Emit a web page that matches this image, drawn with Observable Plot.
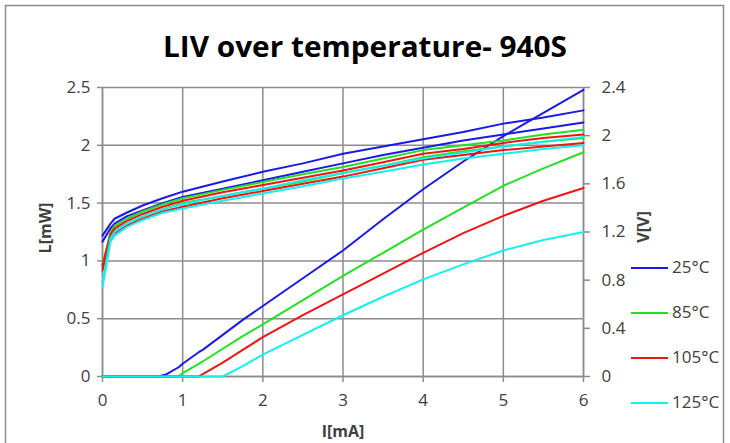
<!DOCTYPE html>
<html><head><meta charset="utf-8">
<script src="https://cdn.jsdelivr.net/npm/d3@7"></script>
<script src="https://cdn.jsdelivr.net/npm/@observablehq/plot@0.6"></script>
<style>
body{margin:0;background:#fff;}
#chart{position:relative;width:730px;height:443px;overflow:hidden;}
</style></head><body><div id="chart"></div>
<script>
// ---- data ----
const temps = ["25°C", "85°C", "105°C", "125°C"];
const colors = ["#1a1ae8", "#22e022", "#f01414", "#14f0f0"];
const xTicks = [0, 1, 2, 3, 4, 5, 6];
const lTicks = [0, 0.5, 1, 1.5, 2, 2.5];
const vTicks = [0, 0.4, 0.8, 1.2, 1.6, 2, 2.4];

// Light output L [mW] vs current I [mA]
const lCurrent = [0, 0.7, 0.8, 0.95, 1, 1.2, 1.25, 1.5, 1.75, 2, 2.5, 3, 3.5, 4, 4.5, 5, 5.5, 6];
const L25  = [0, 0, 0.02, 0.08, 0.11, 0.21, 0.23, 0.36, 0.49, 0.61, 0.85, 1.09, 1.36, 1.62, 1.86, 2.08, 2.28, 2.48];
const L85  = [0, 0, 0, 0, 0.03, 0.11, 0.13, 0.24, 0.35, 0.45, 0.66, 0.87, 1.07, 1.27, 1.46, 1.65, 1.80, 1.94];
const L105 = [0, 0, 0, 0, 0, 0, 0.02, 0.12, 0.23, 0.34, 0.53, 0.71, 0.89, 1.07, 1.24, 1.39, 1.52, 1.63];
const L125 = [0, 0, 0, 0, 0, 0, 0, 0, 0.09, 0.19, 0.36, 0.53, 0.69, 0.84, 0.97, 1.09, 1.18, 1.25];

// Voltage V [V] vs current I [mA], two traces per temperature
const vCurrent = [0, 0.1, 0.15, 0.3, 0.5, 0.75, 1, 1.5, 2, 2.5, 3, 3.5, 4, 4.5, 5, 5.5, 6];
const V25a  = [1.17, 1.27, 1.31, 1.36, 1.42, 1.48, 1.535, 1.62, 1.70, 1.77, 1.85, 1.91, 1.97, 2.03, 2.10, 2.15, 2.21];
const V25b  = [1.12, 1.23, 1.27, 1.33, 1.38, 1.44, 1.49, 1.56, 1.63, 1.70, 1.77, 1.84, 1.90, 1.96, 2.01, 2.06, 2.11];
const V85a  = [0.93, 1.20, 1.25, 1.31, 1.37, 1.43, 1.48, 1.55, 1.615, 1.68, 1.74, 1.81, 1.88, 1.92, 1.96, 2.01, 2.05];
const V85b  = [0.90, 1.16, 1.21, 1.27, 1.33, 1.39, 1.44, 1.50, 1.56, 1.62, 1.69, 1.75, 1.82, 1.87, 1.91, 1.95, 1.98];
const V105a = [0.92, 1.18, 1.23, 1.29, 1.35, 1.41, 1.46, 1.53, 1.59, 1.65, 1.71, 1.78, 1.85, 1.89, 1.94, 1.98, 2.01];
const V105b = [0.88, 1.14, 1.19, 1.25, 1.31, 1.37, 1.41, 1.48, 1.54, 1.60, 1.66, 1.73, 1.80, 1.84, 1.88, 1.91, 1.94];
const V125a = [0.78, 1.15, 1.20, 1.27, 1.33, 1.39, 1.43, 1.50, 1.56, 1.63, 1.69, 1.75, 1.81, 1.86, 1.91, 1.95, 1.99];
const V125b = [0.74, 1.12, 1.17, 1.24, 1.30, 1.36, 1.395, 1.46, 1.52, 1.58, 1.645, 1.70, 1.76, 1.81, 1.85, 1.89, 1.92];

const Lseries = [L25, L85, L105, L125];
const Vseries = [[V25a, V25b], [V85a, V85b], [V105a, V105b], [V125a, V125b]];

// right axis (0–2.4 V) shares the plot height with left axis (0–2.5 mW)
const K = 2.5 / 2.4;
const rows = [];
temps.forEach((t, i) => {
  Vseries[i].forEach((vs, j) => vs.forEach((v, k) => rows.push({I: vCurrent[k], y: v * K, temp: t, key: t + "V" + j})));
  Lseries[i].forEach((l, k) => rows.push({I: lCurrent[k], y: l, temp: t, key: t + "L"}));
});

const gridColor = "#8c8c8c";
const textColor = "#404040";
const font = "Open Sans, Liberation Sans, sans-serif";

const svg = Plot.plot({
  width: 730, height: 443,
  marginLeft: 102, marginRight: 147, marginTop: 87, marginBottom: 67,
  x: {domain: [0, 6]},
  y: {domain: [0, 2.5]},
  color: {domain: temps, range: colors},
  style: {fontFamily: font, fontSize: "17px", color: textColor, background: "white"},
  marks: [
    Plot.gridX(xTicks, {stroke: gridColor, strokeOpacity: 1, strokeWidth: 1.5}),
    Plot.gridY(lTicks, {stroke: gridColor, strokeOpacity: 1, strokeWidth: 1.5}),
    Plot.ruleX([0, 6], {stroke: gridColor, strokeWidth: 1.5}),
    Plot.ruleY([0], {stroke: gridColor, strokeWidth: 1.5}),
    Plot.axisX(xTicks, {tickSize: 6, tickPadding: 11, stroke: gridColor, fill: textColor, strokeWidth: 1.5, label: null, tickFormat: d => String(d)}),
    Plot.axisY(lTicks, {anchor: "left", tickSize: 5, tickPadding: 7, stroke: gridColor, fill: textColor, strokeWidth: 1.5, label: null, tickFormat: d => String(d)}),
    Plot.axisY(vTicks.map(v => v * K), {anchor: "right", tickSize: 6, tickPadding: 12, stroke: gridColor, fill: textColor, strokeWidth: 1.5, label: null, tickFormat: d => String(+(d / K).toFixed(1))}),
    Plot.line(rows, {x: "I", y: "y", z: "key", stroke: "temp", strokeWidth: 2})
  ]
});
document.getElementById("chart").appendChild(svg);

const s = d3.select(svg);
// chart border
s.append("rect").attr("x", 5.5).attr("y", 5.5).attr("width", 718).attr("height", 450)
  .attr("fill", "none").attr("stroke", gridColor).attr("stroke-width", 1.5);
// title
s.append("text").attr("x", 365).attr("y", 57).attr("text-anchor", "middle")
  .attr("font-family", font).attr("font-weight", "bold").attr("font-size", 29)
  .attr("fill", "#000").attr("textLength", 404).attr("lengthAdjust", "spacingAndGlyphs")
  .text("LIV over temperature- 940S");
// axis titles
s.append("text").attr("transform", "translate(47,228) rotate(-90)").attr("text-anchor", "middle")
  .attr("dominant-baseline", "middle").attr("font-family", font).attr("font-weight", "bold")
  .attr("font-size", 16).attr("fill", textColor).text("L[mW]");
s.append("text").attr("transform", "translate(645,227) rotate(-90)").attr("text-anchor", "middle")
  .attr("dominant-baseline", "middle").attr("font-family", font).attr("font-weight", "bold")
  .attr("font-size", 16).attr("fill", textColor).text("V[V]");
s.append("text").attr("x", 343).attr("y", 437).attr("text-anchor", "middle")
  .attr("font-family", font).attr("font-weight", "bold")
  .attr("font-size", 16).attr("fill", textColor).text("I[mA]");
// legend
const legendY = [268, 313, 358, 403];
temps.forEach((t, i) => {
  s.append("line").attr("x1", 631).attr("x2", 668).attr("y1", legendY[i]).attr("y2", legendY[i])
    .attr("stroke", colors[i]).attr("stroke-width", 2);
  s.append("text").attr("x", 672).attr("y", legendY[i]).attr("text-anchor", "start")
    .attr("dominant-baseline", "middle")
    .attr("font-family", font).attr("font-size", 17).attr("fill", textColor).text(t);
});
</script></body></html>
